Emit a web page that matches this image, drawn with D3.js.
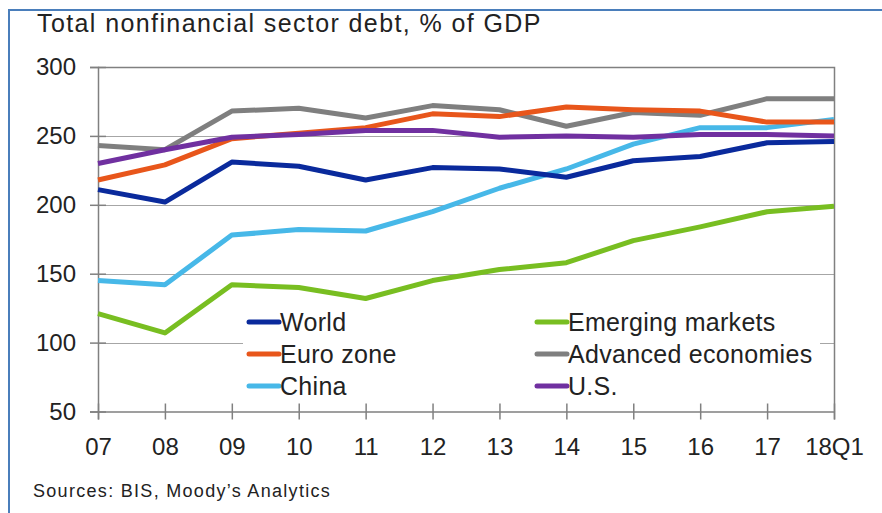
<!DOCTYPE html>
<html>
<head>
<meta charset="utf-8">
<script src="https://cdn.jsdelivr.net/npm/d3@7"></script>
<style>
  body { margin: 0; background: #fff; }
  svg text { font-family: "Liberation Sans", Arial, sans-serif; fill: #222; }
</style>
</head>
<body>
<div class="chart"></div>
<script>
// values, % of GDP
const years = ["07", "08", "09", "10", "11", "12", "13", "14", "15", "16", "17", "18Q1"];
const world = [211, 202, 231, 228, 218, 227, 226, 220, 232, 235, 245, 246];
const euroZone = [218, 229, 248, 252, 256, 266, 264, 271, 269, 268, 260, 260];
const china = [145, 142, 178, 182, 181, 195, 212, 226, 244, 256, 256, 262];
const emerging = [121, 107, 142, 140, 132, 145, 153, 158, 174, 184, 195, 199];
const advanced = [243, 240, 268, 270, 263, 272, 269, 257, 267, 265, 277, 277];
const us = [230, 240, 249, 251, 254, 254, 249, 250, 249, 251, 251, 250];
const yTicks = [50, 100, 150, 200, 250, 300];

const series = [
  { name: "World", values: world, color: "#0a2a9c" },
  { name: "Euro zone", values: euroZone, color: "#e8561b" },
  { name: "China", values: china, color: "#47b8e8" },
  { name: "Emerging markets", values: emerging, color: "#78be21" },
  { name: "Advanced economies", values: advanced, color: "#7f7f7f" },
  { name: "U.S.", values: us, color: "#7030a0" },
];
// draw order: gray behind the others
const drawOrder = ["Advanced economies", "Emerging markets", "China", "Euro zone", "U.S.", "World"];

const width = 882;
const height = 513;
const plotLeft = 98, plotRight = 834, plotTop = 67, plotBottom = 411.5;

let svg = d3
  .select(".chart")
  .append("svg")
  .attr("width", width)
  .attr("height", height);

// outer frame (only top + left edges show)
svg.append("line").attr("x1", 9).attr("x2", width).attr("y1", 10).attr("y2", 10)
  .attr("stroke", "#4a7ebb").attr("stroke-width", 2);
svg.append("line").attr("x1", 9).attr("x2", 9).attr("y1", 9).attr("y2", height)
  .attr("stroke", "#4a7ebb").attr("stroke-width", 2);

svg.append("text")
  .attr("x", 37)
  .attr("y", 32)
  .style("font-size", "25px")
  .style("letter-spacing", "1.4px")
  .text("Total nonfinancial sector debt, % of GDP");

let x = d3.scalePoint().domain(years).range([plotLeft, plotRight]);
let y = d3.scaleLinear().domain([50, 300]).range([plotBottom, plotTop]);

// gridlines
svg.append("g")
  .selectAll("line")
  .data(yTicks.filter((d) => d > 50 && d < 300))
  .enter()
  .append("line")
  .attr("x1", plotLeft)
  .attr("x2", plotRight)
  .attr("y1", (d) => Math.round(y(d)) + 0.5)
  .attr("y2", (d) => Math.round(y(d)) + 0.5)
  .attr("stroke", "#a6a6a6")
  .attr("stroke-width", 1);

// top + right border of plot
svg.append("path")
  .attr("d", `M${plotLeft},${Math.round(plotTop) + 0.5}H${plotRight + 0.5}V${plotBottom}`)
  .attr("fill", "none")
  .attr("stroke", "#808080")
  .attr("stroke-width", 1.5);

// y axis
let yAxis = svg.append("g")
  .attr("transform", `translate(${plotLeft},0)`)
  .call(d3.axisLeft(y).tickValues(yTicks).tickSize(8).tickPadding(14));
yAxis.selectAll(".tick line").attr("x2", 8).attr("x1", -8);

// x axis
let xAxis = svg.append("g")
  .attr("transform", `translate(0,${plotBottom})`)
  .call(d3.axisBottom(x).tickSize(8).tickPadding(14));
xAxis.selectAll(".tick line").attr("y1", -8).attr("y2", 8);

[yAxis, xAxis].forEach((g) => {
  g.select(".domain").attr("stroke", "#808080").attr("stroke-width", 1.5);
  g.selectAll(".tick line").attr("stroke", "#808080").attr("stroke-width", 1.5);
  g.selectAll(".tick text").style("font-size", "24px").attr("fill", "#222").style("font-family", "Liberation Sans, Arial, sans-serif");
});
xAxis.selectAll(".tick text").attr("dy", "0.9em");

// legend box hides the gridline behind it
svg.append("rect")
  .attr("x", 243)
  .attr("y", 306)
  .attr("width", 577)
  .attr("height", 94)
  .attr("fill", "#fff");

let line = d3.line()
  .x((d, i) => x(years[i]))
  .y((d) => y(d));

svg.append("g")
  .selectAll("path")
  .data(drawOrder.map((n) => series.find((s) => s.name === n)))
  .enter()
  .append("path")
  .attr("d", (d) => line(d.values))
  .attr("fill", "none")
  .attr("stroke", (d) => d.color)
  .attr("stroke-width", 5)
  .attr("stroke-linejoin", "round");

// legend, two columns x three rows
const legendCols = [249, 537];
const legendRows = [322, 354, 386];
const legendOrder = ["World", "Emerging markets", "Euro zone", "Advanced economies", "China", "U.S."];

let legend = svg.append("g")
  .selectAll("g")
  .data(legendOrder.map((n) => series.find((s) => s.name === n)))
  .enter()
  .append("g")
  .attr("transform", (d, i) => `translate(${legendCols[i % 2]},${legendRows[Math.floor(i / 2)]})`);

legend.append("line")
  .attr("x1", 0)
  .attr("x2", 30)
  .attr("stroke", (d) => d.color)
  .attr("stroke-width", 5)
  .attr("stroke-linecap", "round");

legend.append("text")
  .attr("x", 31)
  .attr("dy", "0.36em")
  .style("font-size", "25px")
  .style("letter-spacing", "0.3px")
  .text((d) => d.name);

svg.append("text")
  .attr("x", 33)
  .attr("y", 497)
  .style("font-size", "18px")
  .style("letter-spacing", "1.3px")
  .text("Sources: BIS, Moody\u2019s Analytics");
</script>
</body>
</html>
